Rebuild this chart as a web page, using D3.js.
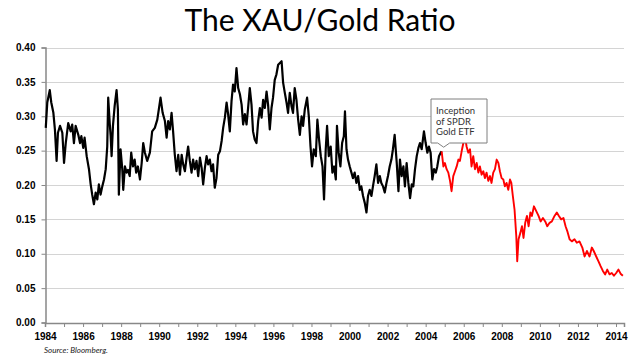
<!DOCTYPE html>
<html>
<head>
<meta charset="utf-8">
<script src="https://cdn.jsdelivr.net/npm/d3@7"></script>
<style>
  html, body { margin: 0; padding: 0; background: #fff; }
  svg { display: block; }
</style>
</head>
<body>
<svg id="chart" width="641" height="356"></svg>
<script>
// ---- Data ----
const titleText = "The XAU/Gold Ratio";
const sourceText = "Source: Bloomberg.";
const noteLines = ["Inception", "of SPDR", "Gold ETF"];
const yTicks = [0.00, 0.05, 0.10, 0.15, 0.20, 0.25, 0.30, 0.35, 0.40];
const xLabelYears = [1984, 1986, 1988, 1990, 1992, 1994, 1996, 1998, 2000, 2002, 2004, 2006, 2008, 2010, 2012, 2014];
const etfInception = 2004.84;

// XAU/Gold ratio before the SPDR Gold ETF inception (black)
const preYears = [1984.04,1984.12,1984.25,1984.33,1984.44,1984.52,1984.61,1984.68,1984.79,1984.91,1985.00,1985.09,1985.22,1985.35,1985.43,1985.52,1985.61,1985.75,1985.84,1985.91,
1986.01,1986.08,1986.19,1986.31,1986.40,1986.48,1986.57,1986.66,1986.75,1986.83,1986.92,1987.01,1987.10,1987.19,1987.27,1987.32,1987.40,1987.45,1987.50,1987.57,
1987.66,1987.76,1987.83,1987.88,1987.97,1988.06,1988.11,1988.20,1988.29,1988.36,1988.45,1988.53,1988.62,1988.71,1988.79,1988.88,1988.99,1989.08,1989.16,1989.25,
1989.37,1989.51,1989.63,1989.77,1989.90,1989.98,1990.07,1990.18,1990.30,1990.39,1990.47,1990.56,1990.65,1990.73,1990.82,1990.91,1991.00,1991.09,1991.18,1991.26,
1991.35,1991.44,1991.52,1991.61,1991.70,1991.78,1991.87,1991.96,1992.05,1992.14,1992.23,1992.31,1992.40,1992.49,1992.57,1992.66,1992.75,1992.83,1992.92,1993.01,
1993.10,1993.19,1993.28,1993.36,1993.45,1993.54,1993.62,1993.71,1993.80,1993.88,1993.97,1994.06,1994.15,1994.24,1994.33,1994.41,1994.50,1994.59,1994.67,1994.76,
1994.85,1994.93,1995.02,1995.11,1995.20,1995.29,1995.38,1995.46,1995.55,1995.64,1995.72,1995.81,1995.90,1995.98,1996.07,1996.16,1996.25,1996.43,1996.51,1996.60,
1996.69,1996.77,1996.86,1996.95,1997.03,1997.12,1997.21,1997.30,1997.39,1997.48,1997.56,1997.65,1997.77,1997.86,1997.95,1998.03,1998.12,1998.23,1998.31,1998.40,
1998.49,1998.58,1998.66,1998.75,1998.82,1998.91,1999.01,1999.10,1999.19,1999.28,1999.34,1999.43,1999.52,1999.61,1999.70,1999.76,1999.84,1999.92,2000.01,2000.10,
2000.18,2000.27,2000.36,2000.45,2000.54,2000.62,2000.71,2000.80,2000.89,2000.97,2001.06,2001.15,2001.23,2001.32,2001.41,2001.50,2001.59,2001.67,2001.76,2001.85,
2001.94,2002.02,2002.11,2002.20,2002.28,2002.37,2002.48,2002.57,2002.65,2002.74,2002.83,2002.91,2003.00,2003.09,2003.18,2003.27,2003.35,2003.44,2003.53,2003.62,
2003.70,2003.79,2003.91,2004.00,2004.09,2004.17,2004.26,2004.35,2004.44,2004.53,2004.61,2004.70,2004.79,2004.84];
const preRatio = [0.283,0.320,0.338,0.320,0.305,0.281,0.235,0.276,0.286,0.276,0.232,0.261,0.290,0.278,0.288,0.261,0.286,0.273,0.261,0.271,
0.254,0.269,0.242,0.223,0.201,0.186,0.172,0.189,0.179,0.201,0.186,0.198,0.208,0.223,0.256,0.327,0.290,0.271,0.242,0.286,
0.315,0.338,0.310,0.186,0.252,0.223,0.193,0.227,0.218,0.222,0.213,0.247,0.227,0.237,0.218,0.227,0.208,0.232,0.261,0.247,
0.235,0.247,0.278,0.283,0.295,0.310,0.327,0.305,0.293,0.269,0.293,0.281,0.305,0.278,0.244,0.220,0.244,0.215,0.244,0.230,
0.220,0.240,0.256,0.235,0.218,0.237,0.223,0.235,0.213,0.240,0.225,0.201,0.225,0.242,0.230,0.237,0.220,0.230,0.196,0.210,
0.244,0.249,0.264,0.283,0.298,0.320,0.303,0.278,0.322,0.346,0.336,0.370,0.341,0.332,0.317,0.288,0.303,0.288,0.312,0.341,
0.317,0.278,0.266,0.261,0.293,0.312,0.298,0.324,0.312,0.336,0.317,0.281,0.312,0.327,0.353,0.361,0.375,0.380,0.349,0.334,
0.320,0.305,0.334,0.315,0.305,0.341,0.324,0.295,0.273,0.300,0.286,0.310,0.327,0.300,0.256,0.227,0.252,0.242,0.295,0.266,
0.242,0.227,0.179,0.252,0.286,0.242,0.256,0.218,0.227,0.208,0.286,0.247,0.227,0.261,0.271,0.307,0.252,0.237,0.227,0.218,
0.210,0.218,0.203,0.213,0.193,0.198,0.184,0.174,0.160,0.184,0.193,0.184,0.198,0.213,0.230,0.203,0.213,0.203,0.198,0.189,
0.203,0.213,0.227,0.237,0.252,0.273,0.232,0.191,0.237,0.213,0.227,0.198,0.232,0.203,0.181,0.201,0.198,0.223,0.242,0.254,
0.261,0.252,0.278,0.261,0.247,0.256,0.247,0.208,0.223,0.218,0.227,0.242,0.247,0.249];

// XAU/Gold ratio after the SPDR Gold ETF inception (red)
const postYears = [2004.84,2004.93,2005.01,2005.10,2005.19,2005.28,2005.36,2005.45,2005.54,2005.63,2005.72,2005.80,2005.89,2005.98,2006.06,2006.15,2006.24,2006.33,2006.41,2006.50,
2006.59,2006.68,2006.77,2006.85,2006.94,2007.03,2007.11,2007.20,2007.29,2007.38,2007.46,2007.55,2007.64,2007.73,2007.82,2007.90,2007.99,2008.08,2008.16,2008.25,
2008.34,2008.43,2008.50,2008.58,2008.67,2008.76,2008.81,2008.88,2008.97,2009.06,2009.14,2009.23,2009.32,2009.41,2009.50,2009.58,2009.69,2009.81,2009.93,2010.04,
2010.16,2010.28,2010.39,2010.51,2010.63,2010.77,2010.89,2011.00,2011.12,2011.24,2011.35,2011.44,2011.56,2011.68,2011.82,2011.94,2012.08,2012.23,2012.35,2012.47,
2012.61,2012.73,2012.83,2012.96,2013.08,2013.19,2013.31,2013.43,2013.54,2013.66,2013.78,2013.89,2014.01,2014.13,2014.24,2014.36];
const postRatio = [0.249,0.227,0.232,0.223,0.218,0.206,0.191,0.213,0.220,0.227,0.237,0.235,0.249,0.261,0.271,0.256,0.247,0.252,0.227,0.242,
0.223,0.232,0.218,0.227,0.215,0.220,0.210,0.218,0.206,0.213,0.203,0.218,0.223,0.237,0.232,0.220,0.210,0.208,0.198,0.203,
0.193,0.208,0.203,0.184,0.164,0.126,0.089,0.121,0.130,0.140,0.123,0.145,0.155,0.140,0.160,0.155,0.169,0.162,0.155,0.147,
0.152,0.147,0.140,0.145,0.147,0.155,0.160,0.155,0.150,0.152,0.140,0.133,0.121,0.118,0.121,0.116,0.118,0.109,0.096,0.104,
0.096,0.109,0.104,0.096,0.089,0.082,0.075,0.070,0.077,0.070,0.072,0.068,0.072,0.077,0.071,0.068];

// ---- Drawing ----
const svg = d3.select("#chart");
const W = 641, H = 356;
const plot = { left: 45, right: 624, top: 47.5, bottom: 322.5 };

const x = d3.scaleLinear().domain([1984, 2014.42]).range([plot.left, plot.right]);
const y = d3.scaleLinear().domain([0, 0.40]).range([plot.bottom, plot.top]);

svg.append("rect").attr("width", W).attr("height", H).attr("fill", "#fff");

// Title
svg.append("text")
  .attr("x", 320).attr("y", 31)
  .attr("text-anchor", "middle")
  .attr("font-family", "Lato, 'Open Sans', sans-serif")
  .attr("font-size", 30)
  .attr("fill", "#000")
  .text(titleText);

// Gridlines
svg.append("g")
  .selectAll("line")
  .data(yTicks.filter(d => d > 0))
  .join("line")
  .attr("x1", plot.left).attr("x2", plot.right)
  .attr("y1", d => Math.round(y(d)) + 0.5).attr("y2", d => Math.round(y(d)) + 0.5)
  .attr("stroke", "#d4d4d4").attr("stroke-width", 1);

// Y axis
const yAxis = d3.axisLeft(y).tickValues(yTicks).tickFormat(d3.format(".2f")).tickSize(4).tickPadding(6);
const gy = svg.append("g").attr("transform", `translate(${plot.left + 0.5},0)`).call(yAxis);
gy.select(".domain").attr("stroke", "#888").attr("stroke-width", 1.5);
gy.selectAll(".tick line").attr("stroke", "#888");
gy.selectAll(".tick text")
  .attr("font-family", "'Liberation Sans', Arial, sans-serif")
  .attr("font-weight", "bold").attr("font-size", 10).attr("fill", "#000");

// X axis
const xAxis = d3.axisBottom(x).tickValues(d3.range(1984, 2015)).tickFormat(d => xLabelYears.includes(d) ? String(d) : "").tickSize(4).tickPadding(6);
const gx = svg.append("g").attr("transform", `translate(0,${plot.bottom + 0.5})`).call(xAxis);
gx.select(".domain").attr("stroke", "#888").attr("stroke-width", 1.5);
gx.selectAll(".tick line").attr("stroke", "#888");
gx.selectAll(".tick text")
  .attr("font-family", "'Liberation Sans', Arial, sans-serif")
  .attr("font-weight", "bold").attr("font-size", 10).attr("fill", "#000");

// Lines
const line = d3.line().x(d => x(d[0])).y(d => y(d[1]));
const pre = preYears.map((t, i) => [t, preRatio[i]]);
const post = postYears.map((t, i) => [t, postRatio[i]]);

svg.append("path").datum(pre)
  .attr("d", line).attr("fill", "none")
  .attr("stroke", "#000").attr("stroke-width", 2.2).attr("stroke-linejoin", "round");
svg.append("path").datum(post)
  .attr("d", line).attr("fill", "none")
  .attr("stroke", "#ff0000").attr("stroke-width", 1.9).attr("stroke-linejoin", "round");

// Annotation callout
const tipX = x(etfInception) + 2, tipY = y(0.255);
const bx = 431, by = 99, bw = 56, bh = 44;
const calloutPath = d3.path();
calloutPath.moveTo(bx, by);
calloutPath.lineTo(bx + bw, by);
calloutPath.lineTo(bx + bw, by + bh);
calloutPath.lineTo(tipX + 6, by + bh);
calloutPath.lineTo(tipX, tipY);
calloutPath.lineTo(tipX - 6, by + bh);
calloutPath.lineTo(bx, by + bh);
calloutPath.closePath();
svg.append("path").attr("d", calloutPath.toString())
  .attr("fill", "#fff").attr("stroke", "#7f7f7f").attr("stroke-width", 1);

svg.append("g").selectAll("text").data(noteLines).join("text")
  .attr("x", bx + 5)
  .attr("y", (d, i) => by + 15 + i * 10.5)
  .attr("font-family", "Lato, 'Open Sans', sans-serif")
  .attr("font-size", 9.5)
  .attr("fill", "#333")
  .text(d => d);

// Source
svg.append("text")
  .attr("x", 44).attr("y", 353)
  .attr("font-family", "Lato, 'Open Sans', sans-serif")
  .attr("font-style", "italic")
  .attr("font-size", 8)
  .attr("fill", "#222")
  .text(sourceText);
</script>
</body>
</html>
